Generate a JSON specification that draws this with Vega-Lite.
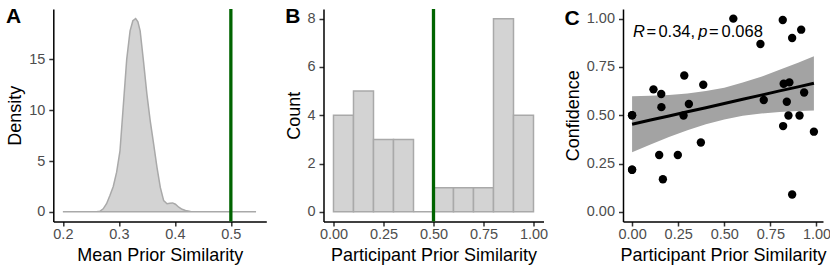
{
  "$schema": "https://vega.github.io/schema/vega-lite/v6.json",
  "padding": {"left": 5.3, "top": 5, "right": 0, "bottom": 2},
  "background": "white",
  "spacing": 18.2,
  "datasets": {
    "density": [
      {"x": 0.20, "density": 0}, {"x": 0.26, "density": 0}, {"x": 0.266, "density": 0.05},
      {"x": 0.272, "density": 0.3}, {"x": 0.278, "density": 0.8}, {"x": 0.284, "density": 1.6},
      {"x": 0.290, "density": 2.5}, {"x": 0.296, "density": 3.9}, {"x": 0.302, "density": 6.0},
      {"x": 0.308, "density": 10.5}, {"x": 0.314, "density": 15.0}, {"x": 0.320, "density": 17.8},
      {"x": 0.325, "density": 18.8}, {"x": 0.330, "density": 19.0}, {"x": 0.334, "density": 18.7},
      {"x": 0.338, "density": 17.8}, {"x": 0.344, "density": 14.8}, {"x": 0.350, "density": 11.6},
      {"x": 0.356, "density": 8.95}, {"x": 0.362, "density": 6.7}, {"x": 0.368, "density": 4.4},
      {"x": 0.374, "density": 2.4}, {"x": 0.380, "density": 1.1}, {"x": 0.386, "density": 0.8},
      {"x": 0.391, "density": 0.85}, {"x": 0.396, "density": 0.88}, {"x": 0.401, "density": 0.75},
      {"x": 0.407, "density": 0.45}, {"x": 0.413, "density": 0.25}, {"x": 0.419, "density": 0.13},
      {"x": 0.428, "density": 0.03}, {"x": 0.44, "density": 0}, {"x": 0.545, "density": 0}
    ],
    "hist": [
      {"b0": 0.0, "b1": 0.1, "count": 4}, {"b0": 0.1, "b1": 0.2, "count": 5},
      {"b0": 0.2, "b1": 0.3, "count": 3}, {"b0": 0.3, "b1": 0.4, "count": 3},
      {"b0": 0.4, "b1": 0.5, "count": 0}, {"b0": 0.5, "b1": 0.6, "count": 1},
      {"b0": 0.6, "b1": 0.7, "count": 1}, {"b0": 0.7, "b1": 0.8, "count": 1},
      {"b0": 0.8, "b1": 0.9, "count": 8}, {"b0": 0.9, "b1": 1.0, "count": 4}
    ],
    "points": [
      {"sim": 0.0, "conf": 0.5}, {"sim": 0.0, "conf": 0.5}, {"sim": 0.0, "conf": 0.218}, {"sim": 0.0, "conf": 0.218},
      {"sim": 0.116, "conf": 0.634}, {"sim": 0.158, "conf": 0.61}, {"sim": 0.159, "conf": 0.542},
      {"sim": 0.147, "conf": 0.294}, {"sim": 0.167, "conf": 0.169}, {"sim": 0.248, "conf": 0.294},
      {"sim": 0.283, "conf": 0.706}, {"sim": 0.279, "conf": 0.499}, {"sim": 0.308, "conf": 0.558},
      {"sim": 0.373, "conf": 0.359}, {"sim": 0.386, "conf": 0.658}, {"sim": 0.549, "conf": 1.0},
      {"sim": 0.696, "conf": 0.869}, {"sim": 0.714, "conf": 0.579}, {"sim": 0.817, "conf": 0.993},
      {"sim": 0.868, "conf": 0.9}, {"sim": 0.917, "conf": 0.943}, {"sim": 0.822, "conf": 0.663},
      {"sim": 0.853, "conf": 0.67}, {"sim": 0.839, "conf": 0.57}, {"sim": 0.848, "conf": 0.499},
      {"sim": 0.819, "conf": 0.444}, {"sim": 0.908, "conf": 0.499}, {"sim": 0.933, "conf": 0.618},
      {"sim": 0.986, "conf": 0.415}, {"sim": 0.868, "conf": 0.09}
    ],
    "band": [
      {"sim": 0.0, "fit": 0.453, "lo": 0.308, "hi": 0.598},
      {"sim": 0.1, "fit": 0.475, "lo": 0.349, "hi": 0.601},
      {"sim": 0.2, "fit": 0.496, "lo": 0.387, "hi": 0.605},
      {"sim": 0.3, "fit": 0.518, "lo": 0.423, "hi": 0.613},
      {"sim": 0.4, "fit": 0.539, "lo": 0.453, "hi": 0.625},
      {"sim": 0.5, "fit": 0.561, "lo": 0.478, "hi": 0.643},
      {"sim": 0.6, "fit": 0.583, "lo": 0.497, "hi": 0.669},
      {"sim": 0.7, "fit": 0.604, "lo": 0.509, "hi": 0.699},
      {"sim": 0.8, "fit": 0.626, "lo": 0.517, "hi": 0.735},
      {"sim": 0.9, "fit": 0.647, "lo": 0.522, "hi": 0.772},
      {"sim": 0.986, "fit": 0.666, "lo": 0.525, "hi": 0.806}
    ],
    "vline": [{"v": 0.5}],
    "label": [{"sim": 0.0, "conf": 0.933}]
  },
  "hconcat": [
    {
      "width": 213,
      "height": 212.5,
      "title": {"text": "A", "dy": 23.5},
      "layer": [
        {
          "data": {"name": "density"},
          "mark": {"type": "area", "fill": "#D3D3D3", "stroke": "#A9A9A9", "strokeWidth": 1.5},
          "encoding": {
            "x": {"field": "x", "type": "quantitative",
                  "scale": {"domain": [0.1829, 0.5633], "nice": false, "zero": false},
                  "axis": {"values": [0.2, 0.3, 0.4, 0.5], "format": ".1f", "title": "Mean Prior Similarity"}},
            "y": {"field": "density", "type": "quantitative",
                  "scale": {"domain": [-0.95, 19.95], "nice": false, "zero": false},
                  "axis": {"values": [0, 5, 10, 15], "format": "d", "title": "Density", "titlePadding": 4.6}},
            "y2": {"datum": 0}
          }
        },
        {
          "data": {"name": "vline"},
          "mark": {"type": "rule", "color": "#006400", "strokeWidth": 3.3},
          "encoding": {"x": {"field": "v", "type": "quantitative"}}
        }
      ]
    },
    {
      "spacing": 15.5,
      "hconcat": [
        {
          "width": 220,
          "height": 212.5,
          "title": {"text": "B", "dy": 23.5},
          "layer": [
            {
              "data": {"name": "hist"},
              "mark": {"type": "bar", "fill": "#D3D3D3", "stroke": "#A9A9A9", "strokeWidth": 1.5},
              "encoding": {
                "x": {"field": "b0", "type": "quantitative",
                      "scale": {"domain": [-0.05, 1.05], "nice": false, "zero": false},
                      "axis": {"values": [0, 0.25, 0.5, 0.75, 1], "format": ".2f", "title": "Participant Prior Similarity"}},
                "x2": {"field": "b1"},
                "y": {"field": "count", "type": "quantitative",
                      "scale": {"domain": [-0.4, 8.4], "nice": false, "zero": false},
                      "axis": {"values": [0, 2, 4, 6, 8], "format": "d", "title": "Count", "titlePadding": 3.6}},
                "y2": {"datum": 0}
              }
            },
            {
              "data": {"name": "vline"},
              "mark": {"type": "rule", "color": "#006400", "strokeWidth": 3.3},
              "encoding": {"x": {"field": "v", "type": "quantitative"}}
            }
          ]
        },
        {
          "width": 200,
          "height": 212.5,
          "title": {"text": "C", "dy": 23.5},
          "layer": [
            {
              "data": {"name": "band"},
              "mark": {"type": "area", "fill": "#A3A3A3", "opacity": 1},
              "encoding": {
                "x": {"field": "sim", "type": "quantitative",
                      "scale": {"domain": [-0.0493, 1.0353], "nice": false, "zero": false},
                      "axis": {"values": [0, 0.25, 0.5, 0.75, 1], "format": ".2f", "title": "Participant Prior Similarity"}},
                "y": {"field": "lo", "type": "quantitative",
                      "scale": {"domain": [-0.05, 1.05], "nice": false, "zero": false},
                      "axis": {"values": [0, 0.25, 0.5, 0.75, 1], "format": ".2f", "title": "Confidence", "titlePadding": 3.9}},
                "y2": {"field": "hi"}
              }
            },
            {
              "data": {"name": "band"},
              "mark": {"type": "line", "color": "black", "strokeWidth": 3},
              "encoding": {
                "x": {"field": "sim", "type": "quantitative"},
                "y": {"field": "fit", "type": "quantitative"}
              }
            },
            {
              "data": {"name": "points"},
              "mark": {"type": "point", "filled": true, "color": "black", "opacity": 1, "size": 70},
              "encoding": {
                "x": {"field": "sim", "type": "quantitative"},
                "y": {"field": "conf", "type": "quantitative"}
              }
            },
            {
              "data": {"name": "label"},
              "mark": {"type": "text", "text": "R", "fontStyle": "italic", "fontSize": 16.5, "align": "left", "baseline": "middle", "color": "black", "dx": 1},
              "encoding": {"x": {"field": "sim", "type": "quantitative"}, "y": {"field": "conf", "type": "quantitative"}}
            },
            {
              "data": {"name": "label"},
              "mark": {"type": "text", "text": "=", "fontSize": 16.5, "align": "left", "baseline": "middle", "color": "black", "dx": 14.3},
              "encoding": {"x": {"field": "sim", "type": "quantitative"}, "y": {"field": "conf", "type": "quantitative"}}
            },
            {
              "data": {"name": "label"},
              "mark": {"type": "text", "text": "0.34,", "fontSize": 16.5, "align": "left", "baseline": "middle", "color": "black", "dx": 26.3},
              "encoding": {"x": {"field": "sim", "type": "quantitative"}, "y": {"field": "conf", "type": "quantitative"}}
            },
            {
              "data": {"name": "label"},
              "mark": {"type": "text", "text": "p", "fontStyle": "italic", "fontSize": 16.5, "align": "left", "baseline": "middle", "color": "black", "dx": 66.2},
              "encoding": {"x": {"field": "sim", "type": "quantitative"}, "y": {"field": "conf", "type": "quantitative"}}
            },
            {
              "data": {"name": "label"},
              "mark": {"type": "text", "text": "=", "fontSize": 16.5, "align": "left", "baseline": "middle", "color": "black", "dx": 77},
              "encoding": {"x": {"field": "sim", "type": "quantitative"}, "y": {"field": "conf", "type": "quantitative"}}
            },
            {
              "data": {"name": "label"},
              "mark": {"type": "text", "text": "0.068", "fontSize": 16.5, "align": "left", "baseline": "middle", "color": "black", "dx": 89.5},
              "encoding": {"x": {"field": "sim", "type": "quantitative"}, "y": {"field": "conf", "type": "quantitative"}}
            }
          ]
        }
      ]
    }
  ],
  "config": {
    "view": {"stroke": null},
    "font": "Liberation Sans",
    "axis": {
      "grid": false,
      "domainColor": "black",
      "domainWidth": 1.5,
      "tickColor": "#333333",
      "tickWidth": 1.5,
      "tickSize": 4.5,
      "labelColor": "#4D4D4D",
      "labelFontSize": 14.5,
      "labelFont": "Liberation Sans",
      "labelFlush": false,
      "labelOverlap": false,
      "titleFont": "Liberation Sans",
      "titleFontSize": 18,
      "titleFontWeight": "normal",
      "titleColor": "black"
    },
    "axisY": {"labelPadding": 4},
    "axisX": {"labelPadding": 2, "titlePadding": 5.5},
    "title": {"fontSize": 21, "font": "Liberation Sans", "fontWeight": "bold", "anchor": "start", "frame": "bounds", "offset": 0, "baseline": "alphabetic", "color": "black"}
  }
}
